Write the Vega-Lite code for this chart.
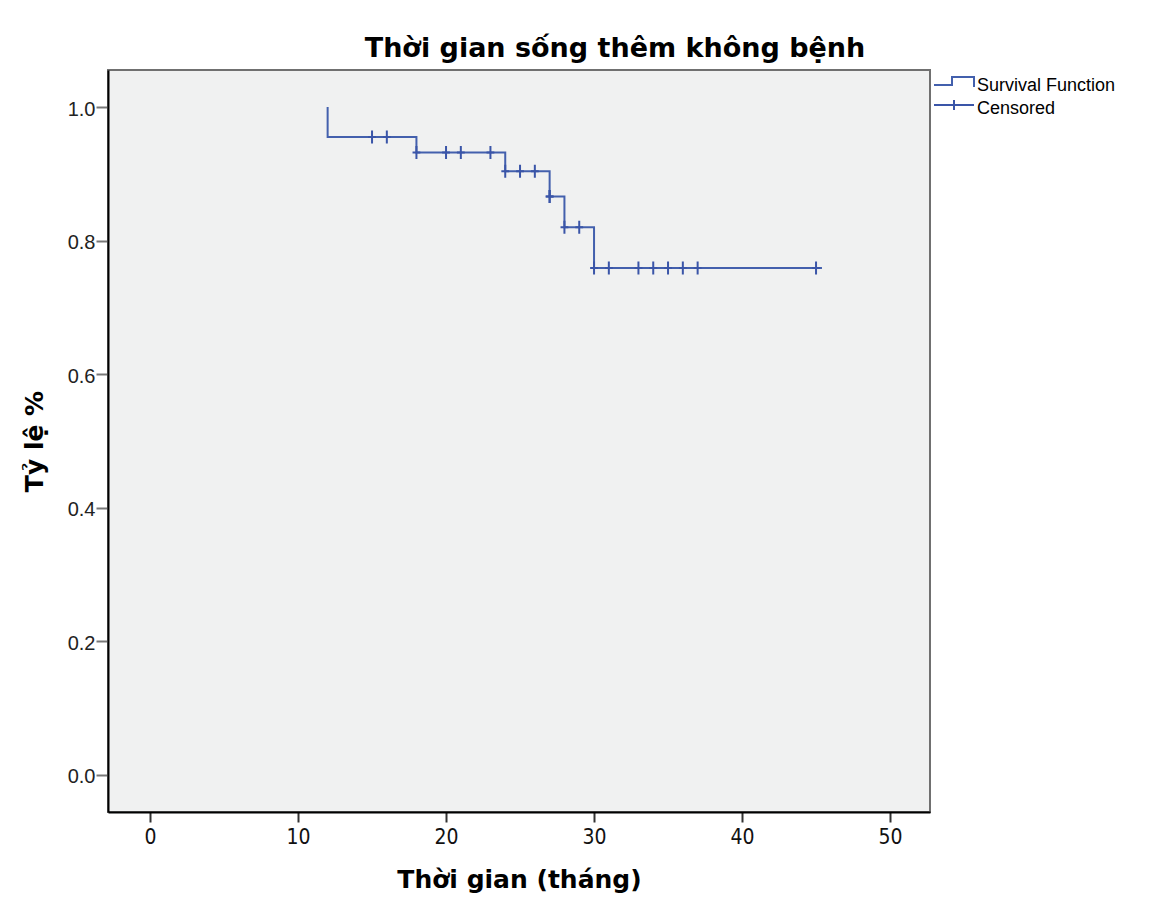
{
  "$schema": "https://vega.github.io/schema/vega-lite/v6.json",
  "width": 822,
  "height": 742,
  "autosize": {"type": "none"},
  "padding": {"left": 108, "top": 70, "right": 242, "bottom": 108},
  "background": "white",
  "title": {
    "text": "Thời gian sống thêm không bệnh",
    "font": "DejaVu Sans",
    "fontWeight": "bold",
    "fontSize": 27,
    "color": "#000000",
    "anchor": "middle",
    "frame": "group",
    "dx": 96,
    "baseline": "alphabetic",
    "offset": -14
  },
  "config": {
    "view": {"fill": "#f0f1f1", "stroke": "#707070", "strokeWidth": 2},
    "axis": {"grid": false}
  },
  "datasets": {
    "survival": [
      {"i": 0, "time": 12, "surv": 1.0},
      {"i": 1, "time": 12, "surv": 0.955},
      {"i": 2, "time": 18, "surv": 0.932},
      {"i": 3, "time": 24, "surv": 0.904},
      {"i": 4, "time": 27, "surv": 0.866},
      {"i": 5, "time": 28, "surv": 0.82},
      {"i": 6, "time": 30, "surv": 0.759},
      {"i": 7, "time": 45.4, "surv": 0.759}
    ],
    "censored": [
      {"time": 15, "surv": 0.955},
      {"time": 16, "surv": 0.955},
      {"time": 18, "surv": 0.932},
      {"time": 20, "surv": 0.932},
      {"time": 21, "surv": 0.932},
      {"time": 23, "surv": 0.932},
      {"time": 24, "surv": 0.904},
      {"time": 25, "surv": 0.904},
      {"time": 26, "surv": 0.904},
      {"time": 27, "surv": 0.866},
      {"time": 27, "surv": 0.866},
      {"time": 28, "surv": 0.82},
      {"time": 29, "surv": 0.82},
      {"time": 30, "surv": 0.759},
      {"time": 31, "surv": 0.759},
      {"time": 33, "surv": 0.759},
      {"time": 34, "surv": 0.759},
      {"time": 35, "surv": 0.759},
      {"time": 36, "surv": 0.759},
      {"time": 37, "surv": 0.759},
      {"time": 45, "surv": 0.759}
    ]
  },
  "encoding": {
    "x": {
      "field": "time",
      "type": "quantitative",
      "scale": {"domain": [-2.84, 52.7], "nice": false, "zero": false},
      "axis": {
        "values": [0, 10, 20, 30, 40, 50],
        "format": "d",
        "title": "Thời gian (tháng)",
        "titleFont": "DejaVu Sans",
        "titleFontWeight": "bold",
        "titleFontSize": 25,
        "titleColor": "#000000",
        "titleBaseline": "alphabetic",
        "titleY": 75,
        "domainColor": "#000000",
        "domainWidth": 2,
        "tickColor": "#333333",
        "tickWidth": 2,
        "tickSize": 10,
        "labelFont": "Liberation Sans Narrow, DejaVu Sans Condensed, Liberation Sans",
        "labelFontSize": 21,
        "labelColor": "#111111",
        "labelPadding": 4
      }
    },
    "y": {
      "field": "surv",
      "type": "quantitative",
      "scale": {"domain": [-0.0555, 1.0555], "nice": false, "zero": false},
      "axis": {
        "values": [0, 0.2, 0.4, 0.6, 0.8, 1.0],
        "format": ".1f",
        "title": "Tỷ lệ %",
        "titleFont": "DejaVu Sans",
        "titleFontWeight": "bold",
        "titleFontSize": 25,
        "titleColor": "#000000",
        "titleBaseline": "alphabetic",
        "titleX": -66,
        "titleY": 371,
        "domainColor": "#000000",
        "domainWidth": 2,
        "tickColor": "#777777",
        "tickWidth": 2,
        "tickSize": 12,
        "labelFont": "Liberation Sans",
        "labelFontSize": 20,
        "labelColor": "#222222",
        "labelPadding": 1,
        "labelOffset": 2
      }
    }
  },
  "layer": [
    {
      "data": {"name": "survival"},
      "mark": {"type": "line", "interpolate": "step-after", "strokeWidth": 2},
      "encoding": {
        "order": {"field": "i"},
        "color": {
          "datum": "Survival Function",
          "type": "nominal",
          "scale": {"domain": ["Survival Function", "Censored"], "range": ["#4360ad", "#3a55a8"]},
          "legend": {
            "orient": "none",
            "legendX": 845,
            "legendY": 5,
            "title": null,
            "padding": 0,
            "symbolSize": 400,
            "labelFont": "Liberation Sans",
            "labelFontSize": 18,
            "labelColor": "#000000",
            "labelOffset": 2,
            "rowPadding": 1,
            "encode": {
              "symbols": {
                "update": {
                  "shape": {"signal": "datum.value === 'Censored' ? 'M-3,-0.4H1M-1,-0.9V0.1' : 'M-3,-0.1H-1.2V-0.9H1V0.1'"},
                  "fill": {"value": "transparent"},
                  "stroke": {"signal": "datum.value === 'Censored' ? '#9eaadb' : '#5a70b8'"},
                  "strokeWidth": {"value": 2},
                  "opacity": {"value": 1}
                }
              }
            }
          }
        }
      }
    },
    {
      "data": {"name": "censored"},
      "mark": {"type": "point", "shape": "M-0.6,0H0.6M0,-1V1", "size": 169, "filled": false, "strokeWidth": 2, "opacity": 1},
      "encoding": {
        "color": {"datum": "Censored", "type": "nominal"}
      }
    }
  ]
}
